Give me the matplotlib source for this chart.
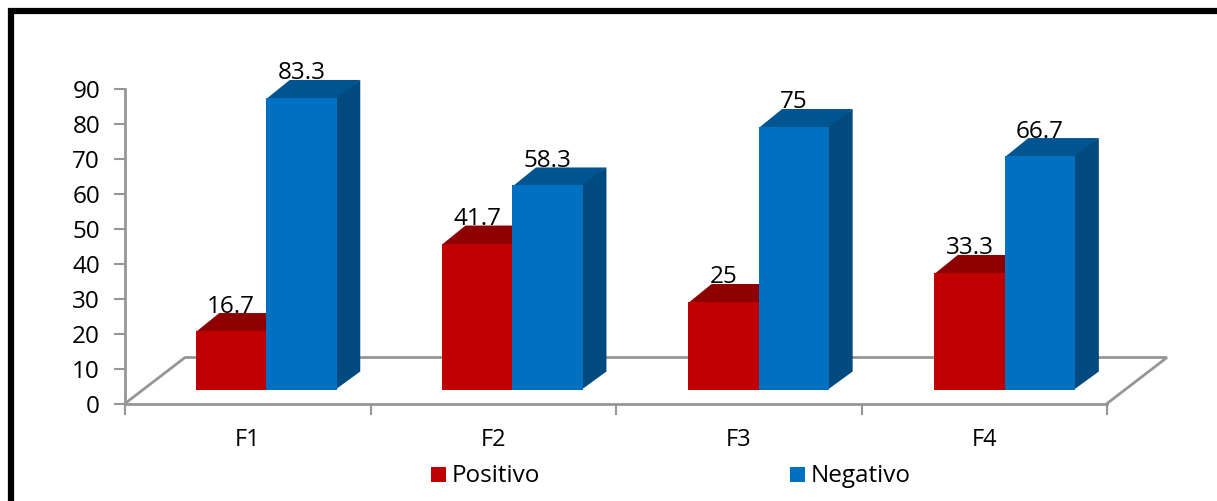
import matplotlib
matplotlib.use('Agg')
import matplotlib.pyplot as plt
from matplotlib.patches import Polygon, Rectangle

# Values
categories = ['F1', 'F2', 'F3', 'F4']
positivo = [16.7, 41.7, 25, 33.3]
negativo = [83.3, 58.3, 75, 66.7]
pos_labels = ['16.7', '41.7', '25', '33.3']
neg_labels = ['83.3', '58.3', '75', '66.7']
yticks = [0, 10, 20, 30, 40, 50, 60, 70, 80, 90]

plt.rcParams['font.family'] = ['Open Sans', 'DejaVu Sans']

W, H = 1217, 502
fig = plt.figure(figsize=(W / 100, H / 100), dpi=100)

# Outer frame, it runs off the right and bottom edges
fig.add_artist(Rectangle((10.5 / W, -0.1), 1.2, 1 + 0.1 - 11.5 / H, transform=fig.transFigure,
                         fill=False, ec='black', lw=4.5))

ax = fig.add_axes([125 / W, 1 - 404.5 / H, (1107 - 125) / W, (404.5 - 89.5) / H])
ax.set_xlim(0, 4)
ax.set_ylim(0, 90)

# pixel sizes turned into data units
ux = (1107 - 125) / 4
uy = (404.5 - 89.5) / 90
floor_dx, floor_dy = 60 / ux, 46 / uy
bar_dx, bar_dy = 23.5 / ux, 18 / uy
base = 14 / uy
front_x = 18.5 / ux
pitch = 246.2 / ux
width = 70.5 / ux
label_gap = 7.5 / uy

GRAY = '#969696'

# Floor outline
ax.plot([0, floor_dx, 4 + floor_dx, 4], [0, floor_dy, floor_dy, 0],
        color=GRAY, lw=2, clip_on=False, zorder=1, solid_joinstyle='miter')


def draw_bar(x0, v, front, top, side):
    y1 = base + v
    # faces overlap slightly so no seam shows at the shared edges
    ax.add_patch(Polygon([(x0, y1 - 0.3), (x0 + bar_dx, y1 + bar_dy), (x0 + width + bar_dx, y1 + bar_dy),
                          (x0 + width, y1 - 0.3)], fc=top, ec='none', zorder=2, clip_on=False))
    ax.add_patch(Polygon([(x0 + width - 0.005, base), (x0 + width + bar_dx, base + bar_dy),
                          (x0 + width + bar_dx, y1 + bar_dy), (x0 + width - 0.005, y1)],
                         fc=side, ec='none', zorder=2, clip_on=False))
    ax.bar(x0, v, width, bottom=base, align='edge', color=front, zorder=3)


for i in range(len(categories)):
    c = 0.5 + front_x + i * pitch
    draw_bar(c - width, positivo[i], '#C00000', '#8E0000', '#8E0000')
    draw_bar(c, negativo[i], '#0070C0', '#00548F', '#004A80')
    ax.text(c - width / 2, base + positivo[i] + bar_dy + label_gap, pos_labels[i],
            ha='center', va='center', fontsize=17.5, color='black', zorder=5, clip_on=False)
    ax.text(c + width / 2, base + negativo[i] + bar_dy + label_gap, neg_labels[i],
            ha='center', va='center', fontsize=17.5, color='black', zorder=5, clip_on=False)

# Axes
for s in ['top', 'right']:
    ax.spines[s].set_visible(False)
for s in ['left', 'bottom']:
    ax.spines[s].set_color(GRAY)
    ax.spines[s].set_linewidth(2)
ax.patch.set_alpha(0)
ax.set_yticks(yticks)
ax.set_xticks(range(5))
ax.set_xticklabels([])
ax.set_xticks([i + 0.5 for i in range(4)], minor=True)
ax.set_xticklabels(categories, minor=True)
ax.tick_params(axis='y', length=8, width=1.5, color=GRAY, labelsize=17.5, pad=10, labelcolor='black')
ax.tick_params(axis='x', which='major', length=8, width=1.5, color=GRAY)
ax.tick_params(axis='x', which='minor', length=0, labelsize=17, pad=17, labelcolor='black')

# Legend
for px, col, name in [(431, '#C00000', 'Positivo'), (790, '#0070C0', 'Negativo')]:
    fig.add_artist(Rectangle((px / W, 1 - 483 / H), 15 / W, 15 / H, transform=fig.transFigure,
                             fc=col, ec='none'))
    fig.text((px + 21) / W, 1 - 476 / H, name, fontsize=17.5, va='center', ha='left')

fig.savefig('out.png', dpi=100)
